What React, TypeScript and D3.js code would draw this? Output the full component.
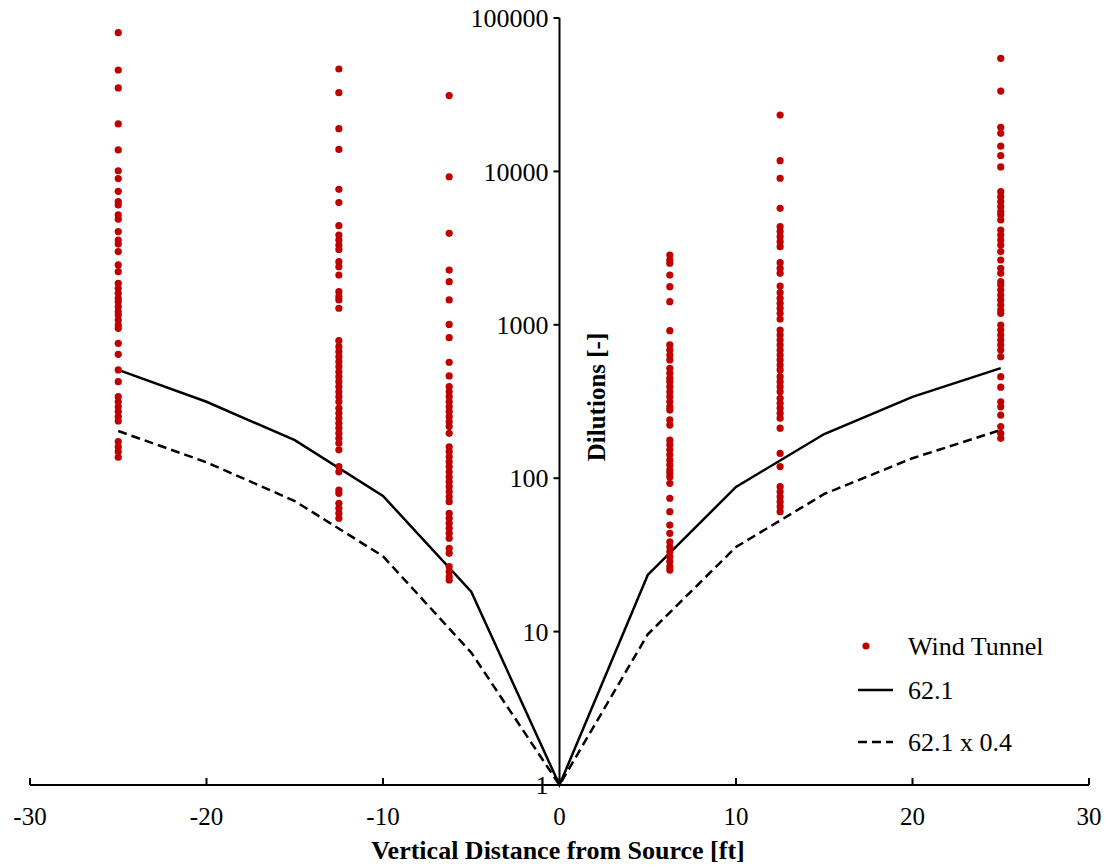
import * as d3 from 'd3'

// wind tunnel dilutions, one column of points per source distance
const colM25 = [80200, 45800, 35000, 20400, 13800, 10100, 8980, 7410, 6350, 6040, 5200, 4880, 4050, 3570, 3360, 3000,
  2455, 2220, 1865, 1730, 1605, 1489, 1415, 1313, 1217, 1158, 1074, 997, 948, 757, 642, 508, 426, 340, 315, 292, 272,
  252, 236, 173, 160, 149, 137]
const colM125 = [46500, 32600, 19000, 13900, 7640, 6260, 4430, 3850, 3570, 3310, 3100, 2580, 2390, 2110, 1643, 1525,
  1452, 1282, 788, 720, 668, 620, 575, 533, 494, 459, 426, 395, 366, 340, 315, 286, 265, 246, 228, 212, 196, 182, 169,
  153, 119, 110, 83.7, 79.7, 68.6, 63.6, 59.0, 54.8]
const colM625 = [31200, 9230, 3950, 2275, 1910, 1452, 1005, 824, 570, 464, 395, 366, 340, 315, 292, 272, 252, 233, 217,
  196, 160, 149, 138, 128, 119, 110, 102, 94.8, 88.0, 81.6, 75.7, 70.3, 59.0, 54.8, 50.8, 47.1, 43.7, 40.6, 34.9, 32.4,
  26.5, 24.6, 22.8, 21.7]
const colP625 = [2850, 2645, 2520, 2110, 1773, 1415, 915, 739, 685, 635, 590, 520, 483, 448, 426, 395, 366, 340, 315,
  292, 278, 240, 222, 177, 165, 153, 142, 131, 122, 113, 108, 102, 92.6, 74.0, 60.5, 49.5, 43.7, 38.5, 35.7, 33.2, 30.8,
  28.6, 26.5, 25.2]
const colP125 = [23300, 11750, 9020, 5745, 4365, 4050, 3755, 3480, 3230, 2540, 2335, 2165, 1790, 1620, 1489, 1381, 1282,
  1188, 1091, 925, 858, 796, 739, 685, 635, 590, 547, 508, 459, 426, 395, 366, 332, 308, 286, 265, 246, 212, 145, 119,
  88.0, 81.6, 75.7, 70.3, 65.2, 60.5]
const colP25 = [54600, 33400, 19400, 17700, 14600, 12700, 10700, 7380, 6840, 6350, 5890, 5460, 5200, 4820, 4150, 3850,
  3570, 3310, 3000, 2645, 2335, 2165, 1910, 1815, 1685, 1563, 1452, 1346, 1248, 1188, 997, 925, 858, 796, 739, 685, 620,
  459, 392, 315, 292, 258, 217, 196, 182]

const tunnelX = [-25, -12.5, -6.25, 6.25, 12.5, 25]
const tunnelCols = [colM25, colM125, colM625, colP625, colP125, colP25]

// model curves
const lineX = [-25, -20, -15, -10, -5, 0, 5, 10, 15, 20, 25]
const line621 = [508, 315, 177, 76.6, 18.2, 1, 23.4, 87.7, 194, 339, 522]
const line621x04 = [203, 127, 71, 31, 7.3, 1, 9.6, 35.6, 78.9, 135, 206]

const xTicks = [-30, -20, -10, 0, 10, 20, 30]
const yTicks = [1, 10, 100, 1000, 10000, 100000]

const W = 1109
const H = 867
const FONT = '"Liberation Serif", "Times New Roman", serif'
const RED = '#C00000'

export default function App() {
  const x = d3.scaleLinear().domain([-30, 30]).range([30, 1089])
  const y = d3.scaleLog().domain([1, 100000]).range([785, 18])

  const line = d3.line<number>()
    .x((_, i) => x(lineX[i]))
    .y(d => y(d))

  const x0 = x(0)

  return (
    <svg width={W} height={H} style={{ position: 'absolute', left: 0, top: 0, background: '#fff' }}>
      {/* x axis */}
      <line x1={x(-30)} x2={x(30)} y1={y(1)} y2={y(1)} stroke="#000" strokeWidth={2} />
      {xTicks.map(t => (
        <g key={t}>
          <line x1={x(t)} x2={x(t)} y1={y(1)} y2={y(1) - 7} stroke="#000" strokeWidth={2} />
          <text x={x(t)} y={y(1) + 40} textAnchor="middle" fontFamily={FONT} fontSize={25}>{t}</text>
        </g>
      ))}
      <text x={558} y={859} textAnchor="middle" fontFamily={FONT} fontSize={26} fontWeight="bold">
        Vertical Distance from Source [ft]
      </text>

      {/* y axis */}
      <line x1={x0} x2={x0} y1={y(100000)} y2={y(1)} stroke="#000" strokeWidth={2} />
      {yTicks.map(t => (
        <g key={t}>
          <line x1={x0 - 6} x2={x0} y1={y(t)} y2={y(t)} stroke="#000" strokeWidth={2} />
          <text x={x0 - 11} y={y(t)} dy="0.35em" textAnchor="end" fontFamily={FONT} fontSize={26}>{t}</text>
        </g>
      ))}
      <text transform={`translate(${x0 + 45},397) rotate(-90)`} textAnchor="middle" fontFamily={FONT}
        fontSize={25} fontWeight="bold">
        Dilutions [-]
      </text>

      {/* model lines */}
      <path d={line(line621x04) || ''} fill="none" stroke="#000" strokeWidth={2.5} strokeDasharray="9,5" />
      <path d={line(line621) || ''} fill="none" stroke="#000" strokeWidth={2.5} />

      {/* wind tunnel points */}
      {tunnelCols.map((col, ci) => col.map((v, i) => (
        <circle key={`${ci}-${i}`} cx={x(tunnelX[ci])} cy={y(v)} r={3.6} fill={RED} />
      )))}

      {/* legend */}
      <circle cx={866} cy={646} r={3.6} fill={RED} />
      <text x={908} y={646} dy="0.35em" fontFamily={FONT} fontSize={26}>Wind Tunnel</text>
      <line x1={858} x2={893} y1={690} y2={690} stroke="#000" strokeWidth={2.5} />
      <text x={908} y={690} dy="0.35em" fontFamily={FONT} fontSize={26}>62.1</text>
      <line x1={858} x2={893} y1={742} y2={742} stroke="#000" strokeWidth={2.5} strokeDasharray="9,5" />
      <text x={908} y={742} dy="0.35em" fontFamily={FONT} fontSize={26}>62.1 x 0.4</text>
    </svg>
  )
}
